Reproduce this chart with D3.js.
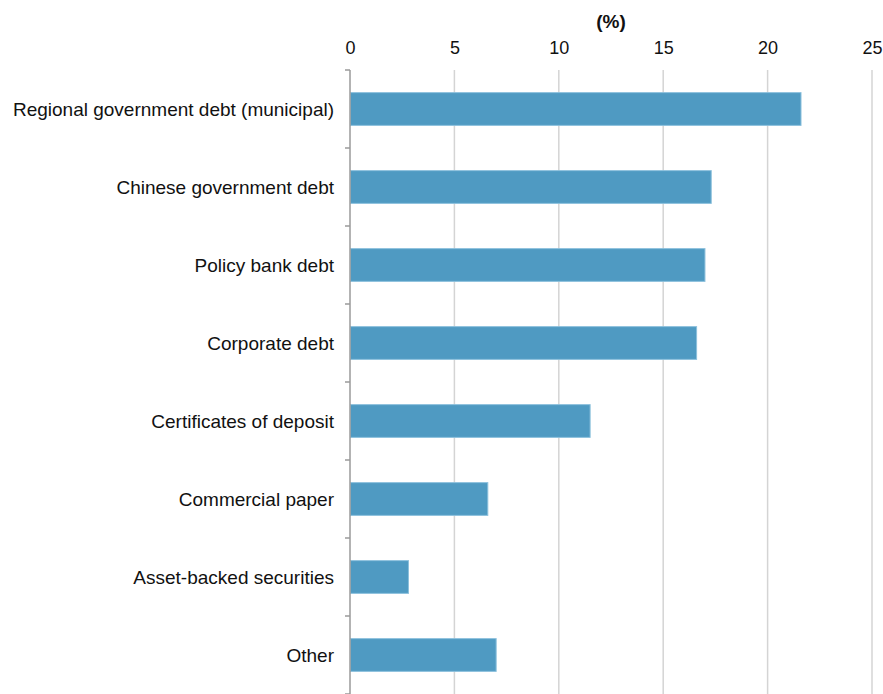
<!DOCTYPE html>
<html>
<head>
<meta charset="utf-8">
<script src="https://cdn.jsdelivr.net/npm/d3@7/dist/d3.min.js"></script>
<style>
  html, body { margin: 0; padding: 0; background: #fff; }
  svg { display: block; font-family: "Liberation Sans", Arial, sans-serif; }
</style>
</head>
<body>
<svg id="chart" width="883" height="694"></svg>
<script>
// Holdings by asset type, share of total (%)
const categories = [
  "Regional government debt (municipal)",
  "Chinese government debt",
  "Policy bank debt",
  "Corporate debt",
  "Certificates of deposit",
  "Commercial paper",
  "Asset-backed securities",
  "Other"
];
const shares = [21.6, 17.3, 17.0, 16.6, 11.5, 6.6, 2.8, 7.0];
const xTicks = [0, 5, 10, 15, 20, 25];
const unitLabel = "(%)";

const svg = d3.select("#chart");
const margin = { top: 70, right: 11, bottom: 0, left: 350 };
const height = 694 - margin.top - margin.bottom;

const x = d3.scaleLinear().domain([0, 25]).range([0, 522]);
const y = d3.scaleBand().domain(categories).range([0, height]).paddingInner(0.58).paddingOuter(0.29);

const g = svg.append("g").attr("transform", `translate(${margin.left},${margin.top})`);

// vertical gridlines
g.selectAll("line.grid")
  .data(xTicks.filter(d => d > 0))
  .enter().append("line")
  .attr("class", "grid")
  .attr("x1", d => x(d)).attr("x2", d => x(d))
  .attr("y1", 0).attr("y2", height)
  .attr("stroke", "#d4d4d4").attr("stroke-width", 1.5);

// top value axis (labels only)
const xAxis = g.append("g")
  .call(d3.axisTop(x).tickValues(xTicks).tickSize(0).tickPadding(16));
xAxis.select(".domain").remove();
xAxis.selectAll("text")
  .attr("font-size", 18)
  .attr("fill", "#111")
  .style("font-family", "Liberation Sans, Arial, sans-serif");

// unit label
svg.append("text")
  .attr("x", margin.left + x(12.5))
  .attr("y", 28)
  .attr("text-anchor", "middle")
  .attr("font-size", 19)
  .attr("font-weight", "bold")
  .attr("fill", "#111")
  .text(unitLabel);

// bars
g.selectAll("rect.bar")
  .data(categories)
  .enter().append("rect")
  .attr("class", "bar")
  .attr("x", 0.5)
  .attr("y", d => y(d))
  .attr("width", (d, i) => x(shares[i]) - 0.5)
  .attr("height", y.bandwidth())
  .attr("fill", "#4f9ac2")
  .attr("stroke", "#8cc0dc")
  .attr("stroke-width", 1);

// category axis with ticks between bands
const bandEdges = d3.range(categories.length + 1).map(i => i * y.step());
g.append("line")
  .attr("x1", 0).attr("x2", 0)
  .attr("y1", 0).attr("y2", height)
  .attr("stroke", "#9a9a9a").attr("stroke-width", 1.5);
g.selectAll("line.cat-tick")
  .data(bandEdges)
  .enter().append("line")
  .attr("class", "cat-tick")
  .attr("x1", -5).attr("x2", 0)
  .attr("y1", d => d).attr("y2", d => d)
  .attr("stroke", "#9a9a9a").attr("stroke-width", 1.5);

g.selectAll("text.cat")
  .data(categories)
  .enter().append("text")
  .attr("class", "cat")
  .attr("x", -16)
  .attr("y", d => y(d) + y.bandwidth() / 2)
  .attr("dy", "0.35em")
  .attr("text-anchor", "end")
  .attr("font-size", 19)
  .attr("fill", "#111")
  .text(d => d);
</script>
</body>
</html>
